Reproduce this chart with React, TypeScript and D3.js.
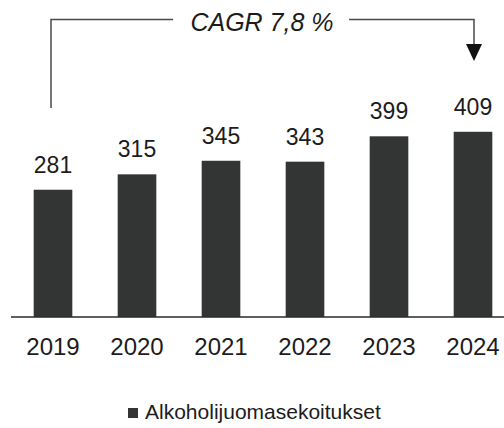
import React, { Component } from 'react';
import * as d3 from 'd3';

const years: string[] = ['2019', '2020', '2021', '2022', '2023', '2024'];
const values: number[] = [281, 315, 345, 343, 399, 409];
const seriesName = 'Alkoholijuomasekoitukset';
const cagrLabel = 'CAGR 7,8 %';

const WIDTH = 504;
const HEIGHT = 428;
const BAR_COLOR = '#323534';
const TEXT_COLOR = '#1c1c1c';
const FONT = '"Liberation Sans", Arial, sans-serif';

class App extends Component {
    svgRef = React.createRef<SVGSVGElement>();

    componentDidMount() {
        this.drawChart();
    }

    componentDidUpdate() {
        this.drawChart();
    }

    drawChart() {
        if (!this.svgRef.current) return;
        const svg = d3.select(this.svgRef.current);
        svg.selectAll('*').remove(); // clear before redraw

        const baseline = 317;

        const x = d3.scaleBand<string>()
            .domain(years)
            .range([11, 515])
            .paddingInner(0.54)
            .paddingOuter(0.27);

        const y = d3.scaleLinear()
            .domain([0, 700])
            .range([baseline, 0]);

        const data = years.map((yr, i) => ({ year: yr, value: values[i] }));

        // bars
        svg.append('g')
            .selectAll('rect')
            .data(data)
            .join('rect')
            .attr('x', d => x(d.year)!)
            .attr('y', d => y(d.value))
            .attr('width', x.bandwidth())
            .attr('height', d => baseline - y(d.value))
            .attr('fill', BAR_COLOR);

        // value labels
        svg.append('g')
            .selectAll('text')
            .data(data)
            .join('text')
            .attr('x', d => x(d.year)! + x.bandwidth() / 2)
            .attr('y', d => y(d.value) - 17)
            .attr('text-anchor', 'middle')
            .style('font-family', FONT)
            .style('font-size', '23px')
            .attr('fill', TEXT_COLOR)
            .text(d => d.value);

        // baseline
        svg.append('line')
            .attr('x1', 11)
            .attr('x2', WIDTH)
            .attr('y1', baseline)
            .attr('y2', baseline)
            .attr('stroke', '#2a2a2a')
            .attr('stroke-width', 1.5);

        // year labels
        const xAxis = d3.axisBottom(x).tickSize(0).tickPadding(0);
        const axisG = svg.append('g')
            .attr('transform', `translate(0,${baseline})`)
            .call(xAxis);
        axisG.select('.domain').remove();
        axisG.selectAll('text')
            .attr('y', 38)
            .attr('dy', null)
            .style('font-family', FONT)
            .style('font-size', '24px')
            .attr('fill', TEXT_COLOR);

        // CAGR annotation
        const first = years[0];
        const last = years[years.length - 1];
        const xStart = x(first)! + x.bandwidth() / 2 - 2;
        const xEnd = x(last)! + x.bandwidth() / 2 + 1;
        const topY = 19.5;
        const textX = 262;

        const ann = svg.append('g')
            .attr('fill', 'none')
            .attr('stroke', '#4a4a4a')
            .attr('stroke-width', 1.5);

        ann.append('path')
            .attr('d', `M${xStart},108 L${xStart},${topY} L173,${topY}`);
        ann.append('path')
            .attr('d', `M349,${topY} L${xEnd},${topY} L${xEnd},46`);

        svg.append('path')
            .attr('d', `M${xEnd - 8},44 L${xEnd + 8},44 L${xEnd},61 Z`)
            .attr('fill', '#111');

        svg.append('text')
            .attr('x', textX)
            .attr('y', 31)
            .attr('text-anchor', 'middle')
            .style('font-family', FONT)
            .style('font-size', '25px')
            .style('font-style', 'italic')
            .attr('fill', TEXT_COLOR)
            .text(cagrLabel);

        // legend
        const legend = svg.append('g');
        legend.append('rect')
            .attr('x', 128)
            .attr('y', 408)
            .attr('width', 10)
            .attr('height', 10)
            .attr('fill', BAR_COLOR);
        legend.append('text')
            .attr('x', 145)
            .attr('y', 419)
            .style('font-family', FONT)
            .style('font-size', '21px')
            .attr('fill', TEXT_COLOR)
            .text(seriesName);
    }

    render() {
        return (
            <svg
                ref={this.svgRef}
                width={WIDTH}
                height={HEIGHT}
                style={{ position: 'absolute', left: 0, top: 0, background: '#fff' }}
            />
        );
    }
}

export default App;
